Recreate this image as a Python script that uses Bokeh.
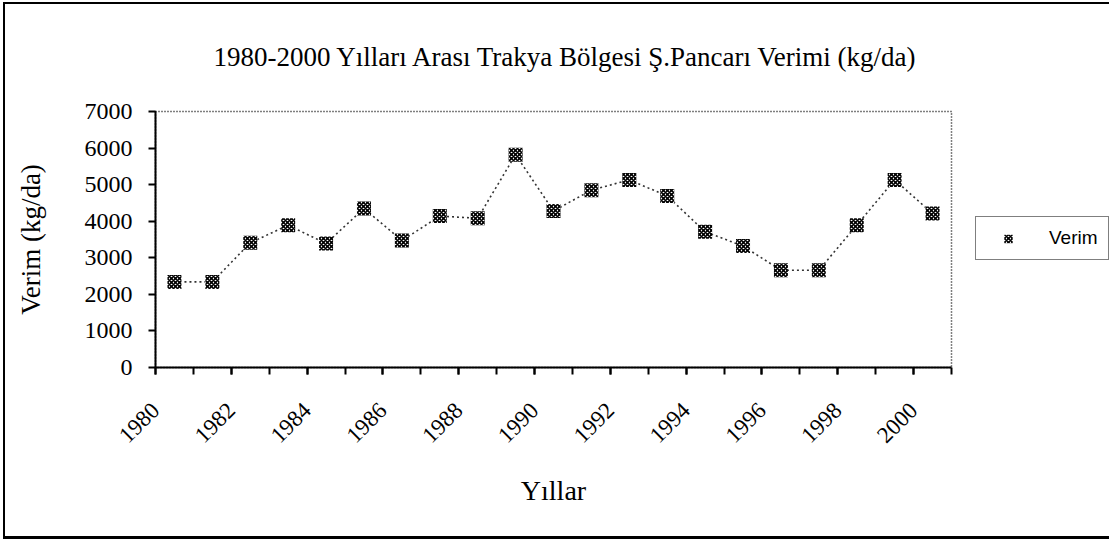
import math
from bokeh.plotting import figure
from bokeh.models import Range1d, FixedTicker, Legend, LegendItem, ColumnDataSource
from bokeh.embed import file_html
from bokeh.resources import INLINE

# ---- data ----
years = list(range(1980, 2001))
verim = [2340, 2340, 3410, 3890, 3390, 4350, 3470, 4140, 4080, 5820, 4280,
         4850, 5130, 4690, 3710, 3320, 2660, 2660, 3890, 5130, 4210]
label_years = list(range(1980, 2001, 2))
y_ticks = [0, 1000, 2000, 3000, 4000, 5000, 6000, 7000]

title_text = "1980-2000 Yılları Arası Trakya Bölgesi Ş.Pancarı Verimi (kg/da)"
x_title = "Yıllar"
y_title = "Verim (kg/da)"
series_name = "Verim"

SERIF = "Liberation Serif"
SANS = "Liberation Sans"

# categories sit between tick marks: centre of each year's slot
src = ColumnDataSource(dict(x=[y + 0.5 for y in years], y=verim))

p = figure(
    output_backend="svg", toolbar_location=None,
    frame_width=796, frame_height=256,
    min_border_left=150, min_border_right=158,
    min_border_top=107, min_border_bottom=169,
    x_range=Range1d(1980, 2001), y_range=Range1d(0, 7000),
    title=title_text,
)
p.styles = {
    "border-left": "2px solid black",
    "border-top": "2px solid black",
    "border-bottom": "3px solid black",
    "margin-left": "3px",
    "margin-top": "2px",
}

p.title.text_font = SERIF
p.title.text_font_size = "27px"
p.title.text_font_style = "normal"
p.title.align = "left"
p.title.offset = 58
p.title.vertical_align = "top"
p.title.text_color = "black"
p.title.standoff = 75

p.xgrid.visible = False
p.ygrid.visible = False
p.background_fill_color = "white"
p.border_fill_alpha = 0.0
p.outline_line_color = "black"
p.outline_line_dash = "1 2"
p.outline_line_width = 1.5

# x axis
xa = p.xaxis[0]
xa.ticker = FixedTicker(ticks=label_years, minor_ticks=list(range(1980, 2002)))
xa.major_label_orientation = math.pi / 4
xa.major_label_text_font = SERIF
xa.major_label_text_font_size = "23px"
xa.major_label_text_color = "black"
xa.major_tick_out = 7
xa.major_tick_in = 0
xa.minor_tick_out = 7
xa.minor_tick_in = 0
xa.major_tick_line_width = 2
xa.minor_tick_line_width = 2
xa.minor_tick_line_color = "black"
xa.axis_line_width = 2
xa.axis_line_color = "black"
xa.major_label_standoff = 32
xa.axis_label = x_title
xa.axis_label_text_font = SERIF
xa.axis_label_text_font_size = "28px"
xa.axis_label_text_font_style = "normal"
xa.axis_label_text_color = "black"
xa.axis_label_standoff = 22

# y axis
ya = p.yaxis[0]
ya.ticker = FixedTicker(ticks=y_ticks, minor_ticks=[])
ya.major_label_text_font = SERIF
ya.major_label_text_font_size = "24px"
ya.major_label_text_color = "black"
ya.major_tick_out = 7
ya.major_tick_in = 0
ya.major_tick_line_width = 2
ya.axis_line_width = 2
ya.axis_line_color = "black"
ya.major_label_standoff = 16
ya.axis_label = y_title
ya.axis_label_text_font = SERIF
ya.axis_label_text_font_size = "27px"
ya.axis_label_text_font_style = "normal"
ya.axis_label_text_color = "black"
ya.axis_label_standoff = 36

# series
p.line("x", "y", source=src, line_color="#333333", line_width=1.6, line_dash="2 3")
r = p.scatter("x", "y", source=src, marker="square", size=14,
              fill_color="white", line_color=None,
              hatch_pattern="diagonal_cross", hatch_color="black",
              hatch_scale=4, hatch_weight=1.6)

legend = Legend(items=[LegendItem(label=series_name, renderers=[r])],
                location=(24, 107), orientation="vertical",
                padding=10, margin=0, spacing=0,
                glyph_width=44, glyph_height=21, label_height=21,
                label_standoff=19,
                label_text_font=SANS, label_text_font_size="19px",
                label_text_color="black",
                border_line_color="black", border_line_width=1.5,
                background_fill_color="white", background_fill_alpha=1.0)
p.add_layout(legend, "right")

open("out.html", "w").write(file_html(p, INLINE))
